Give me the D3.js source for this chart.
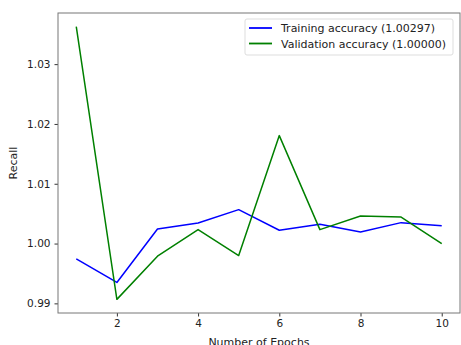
<!DOCTYPE html>
<html><head><meta charset="utf-8">
<script src="https://cdn.jsdelivr.net/npm/d3@7"></script>
<style>body{margin:0;background:#fff;} text{font-family:"DejaVu Sans",sans-serif;}</style>
</head><body>
<svg id="c" width="461" height="345"></svg>
<script>
const epochs = [1,2,3,4,5,6,7,8,9,10];
const trainAcc = [0.99743,0.9935,1.00243,1.00343,1.00567,1.00222,1.00322,1.00193,1.0035,1.00297];
const valAcc = [1.03627,0.99067,0.99788,1.00233,0.998,1.01805,1.00233,1.0046,1.00443,1.00000];
const xTicks = [2,4,6,8,10];
const yTicks = [0.99,1.00,1.01,1.02,1.03];
const seriesNames = ["Training accuracy (1.00297)","Validation accuracy (1.00000)"];
const seriesColors = ["#0000ff","#008000"];

const svg = d3.select("#c");
const L=58,R=460,T=13,B=313;
const x = d3.scaleLinear().domain([0.55,10.45]).range([L,R]);
const y = d3.scaleLinear().domain([0.98839,1.03855]).range([B,T]);

const xAxis = svg.append("g").attr("transform",`translate(0,${B})`)
  .call(d3.axisBottom(x).tickValues(xTicks).tickFormat(d3.format("d")).tickSize(3.5).tickPadding(3));
const yAxis = svg.append("g").attr("transform",`translate(${L},0)`)
  .call(d3.axisLeft(y).tickValues(yTicks).tickFormat(d3.format(".2f")).tickSize(3.5).tickPadding(4));
[xAxis,yAxis].forEach(g=>{
  g.select(".domain").remove();
  g.selectAll("line").attr("stroke","#333");
  g.selectAll("text").attr("font-size",10.5).attr("fill","#222");
});

const line = d3.line().x((d,i)=>x(epochs[i])).y(d=>y(d));
[trainAcc,valAcc].forEach((s,k)=>{
  svg.append("path").datum(s).attr("d",line).attr("fill","none")
    .attr("stroke",seriesColors[k]).attr("stroke-width",1.5).attr("stroke-linejoin","round");
});

svg.append("rect").attr("x",L).attr("y",T).attr("width",R-L).attr("height",B-T)
  .attr("fill","none").attr("stroke","#777").attr("stroke-width",1);

svg.append("text").attr("x",259).attr("y",346).attr("text-anchor","middle")
  .attr("font-size",11).attr("fill","#222").text("Number of Epochs");
svg.append("text").attr("transform","translate(17,163) rotate(-90)").attr("text-anchor","middle")
  .attr("font-size",11).attr("fill","#222").text("Recall");

const lg = svg.append("g");
lg.append("rect").attr("x",245).attr("y",19).attr("width",208).attr("height",36).attr("rx",2)
  .attr("fill","#fff").attr("stroke","#ddd");
seriesNames.forEach((n,k)=>{
  const yy = 28 + k*15.5;
  lg.append("line").attr("x1",249).attr("x2",272).attr("y1",yy).attr("y2",yy)
    .attr("stroke",seriesColors[k]).attr("stroke-width",1.8);
  lg.append("text").attr("x",281).attr("y",yy+4).attr("font-size",11).attr("fill","#222").text(n);
});
</script>
</body></html>
